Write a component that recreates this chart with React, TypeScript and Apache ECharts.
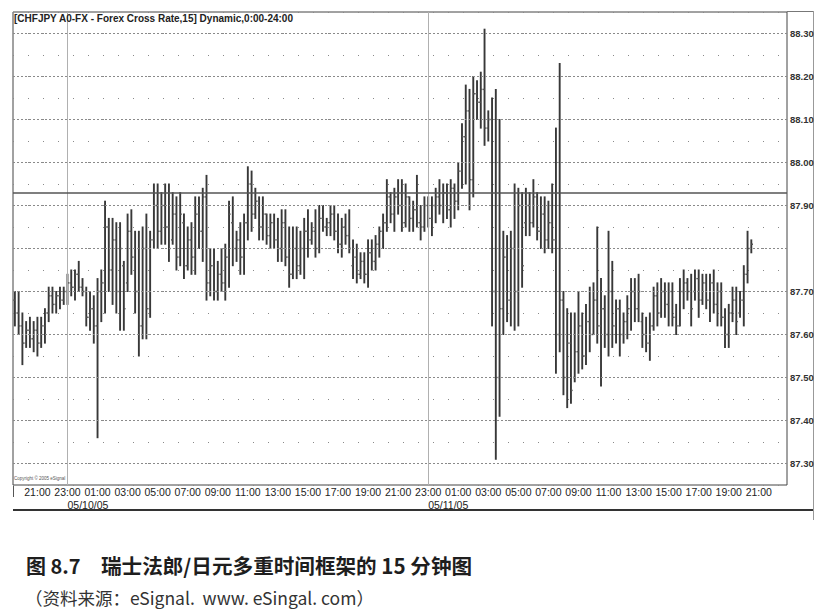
import React, { useEffect, useRef } from "react";
import * as echarts from "echarts";

// ---- data (15-minute OHLC bars, CHFJPY, 05/09/05 19:30 onward) ----
const opens = [
  87.68, 87.65, 87.62, 87.58, 87.61, 87.59, 87.61, 87.58, 87.62, 87.65,
  87.69, 87.67, 87.69, 87.68, 87.70, 87.72, 87.71, 87.74, 87.71, 87.70,
  87.64, 87.66, 87.62, 87.70, 87.72, 87.85, 87.75, 87.82, 87.70, 87.76,
  87.72, 87.84, 87.78, 87.70, 87.62, 87.80, 87.66, 87.82, 87.90, 87.84,
  87.90, 87.85, 87.82, 87.88, 87.78, 87.86, 87.76, 87.82, 87.78, 87.88,
  87.84, 87.92, 87.72, 87.76, 87.70, 87.74, 87.72, 87.78, 87.86, 87.80,
  87.82, 87.78, 87.86, 87.95, 87.88, 87.91, 87.85, 87.88, 87.83, 87.86,
  87.82, 87.80, 87.86, 87.78, 87.74, 87.80, 87.76, 87.80, 87.84, 87.82,
  87.84, 87.80, 87.87, 87.85, 87.86, 87.88, 87.84, 87.81, 87.85, 87.83,
  87.76, 87.78, 87.74, 87.77, 87.74, 87.79, 87.77, 87.81, 87.84, 87.86,
  87.92, 87.88, 87.92, 87.90, 87.86, 87.92, 87.87, 87.89, 87.86, 87.85,
  87.90, 87.87, 87.90, 87.92, 87.90, 87.93, 87.89, 87.94, 87.91, 87.98,
  88.06, 88.12, 87.96, 88.16, 88.14, 88.17, 88.08, 88.10, 87.70, 87.50,
  87.66, 87.78, 87.68, 87.80, 87.70, 87.90, 87.86, 87.90, 87.86, 87.92,
  87.84, 87.88, 87.82, 87.86, 87.82, 87.60, 87.68, 87.50, 87.58, 87.50,
  87.56, 87.62, 87.55, 87.63, 87.60, 87.68, 87.62, 87.66, 87.60, 87.70,
  87.62, 87.66, 87.60, 87.63, 87.66, 87.70, 87.66, 87.63, 87.60, 87.58,
  87.62, 87.69, 87.65, 87.70, 87.67, 87.70, 87.64, 87.62, 87.70, 87.72,
  87.70, 87.70, 87.73, 87.68, 87.72, 87.68, 87.72, 87.67, 87.70, 87.64,
  87.60, 87.65, 87.68, 87.65, 87.68, 87.74, 87.80,
];
const highs = [
  87.70, 87.70, 87.65, 87.63, 87.64, 87.63, 87.64, 87.64, 87.66, 87.71,
  87.71, 87.70, 87.71, 87.71, 87.74, 87.75, 87.75, 87.77, 87.73, 87.71,
  87.70, 87.69, 87.73, 87.75, 87.91, 87.87, 87.87, 87.86, 87.86, 87.77,
  87.88, 87.89, 87.84, 87.84, 87.85, 87.88, 87.84, 87.95, 87.95, 87.93,
  87.95, 87.95, 87.93, 87.92, 87.93, 87.88, 87.85, 87.86, 87.92, 87.92,
  87.94, 87.97, 87.80, 87.80, 87.77, 87.80, 87.81, 87.91, 87.92, 87.84,
  87.86, 87.88, 87.99, 87.98, 87.94, 87.92, 87.92, 87.88, 87.88, 87.88,
  87.87, 87.89, 87.89, 87.85, 87.85, 87.85, 87.84, 87.87, 87.89, 87.86,
  87.89, 87.90, 87.90, 87.87, 87.90, 87.90, 87.88, 87.87, 87.88, 87.89,
  87.82, 87.81, 87.79, 87.79, 87.82, 87.82, 87.83, 87.85, 87.88, 87.96,
  87.93, 87.94, 87.96, 87.96, 87.95, 87.92, 87.91, 87.97, 87.90, 87.92,
  87.92, 87.92, 87.94, 87.96, 87.95, 87.95, 87.96, 87.95, 88.00, 88.09,
  88.18, 88.17, 88.20, 88.19, 88.21, 88.31, 88.12, 88.15, 88.17, 88.10,
  87.84, 87.83, 87.84, 87.95, 87.94, 87.93, 87.94, 87.93, 87.96, 87.93,
  87.92, 87.92, 87.91, 87.95, 88.08, 88.23, 87.70, 87.66, 87.65, 87.65,
  87.70, 87.65, 87.67, 87.71, 87.72, 87.85, 87.73, 87.69, 87.84, 87.77,
  87.68, 87.68, 87.65, 87.69, 87.73, 87.73, 87.74, 87.65, 87.64, 87.65,
  87.71, 87.72, 87.73, 87.72, 87.72, 87.72, 87.67, 87.73, 87.75, 87.73,
  87.74, 87.75, 87.75, 87.74, 87.74, 87.74, 87.75, 87.72, 87.72, 87.66,
  87.67, 87.71, 87.71, 87.70, 87.76, 87.84, 87.82,
];
const lows = [
  87.62, 87.60, 87.53, 87.57, 87.57, 87.56, 87.55, 87.57, 87.58, 87.63,
  87.65, 87.65, 87.66, 87.67, 87.67, 87.69, 87.68, 87.70, 87.69, 87.62,
  87.61, 87.58, 87.36, 87.63, 87.65, 87.70, 87.67, 87.65, 87.61, 87.61,
  87.70, 87.74, 87.65, 87.55, 87.59, 87.59, 87.64, 87.80, 87.80, 87.81,
  87.81, 87.77, 87.81, 87.75, 87.76, 87.73, 87.75, 87.74, 87.74, 87.80,
  87.77, 87.68, 87.69, 87.68, 87.68, 87.70, 87.68, 87.71, 87.76, 87.77,
  87.74, 87.74, 87.82, 87.84, 87.87, 87.82, 87.82, 87.81, 87.80, 87.80,
  87.77, 87.77, 87.76, 87.71, 87.73, 87.73, 87.74, 87.73, 87.78, 87.81,
  87.78, 87.79, 87.84, 87.83, 87.83, 87.82, 87.79, 87.78, 87.81, 87.79,
  87.73, 87.72, 87.73, 87.72, 87.71, 87.75, 87.75, 87.78, 87.80, 87.84,
  87.86, 87.84, 87.88, 87.84, 87.85, 87.84, 87.84, 87.85, 87.82, 87.84,
  87.85, 87.83, 87.86, 87.88, 87.86, 87.87, 87.85, 87.87, 87.89, 87.94,
  87.95, 87.89, 87.92, 88.10, 88.08, 88.04, 88.05, 87.62, 87.31, 87.41,
  87.60, 87.63, 87.62, 87.61, 87.62, 87.71, 87.83, 87.83, 87.85, 87.82,
  87.80, 87.79, 87.80, 87.79, 87.51, 87.56, 87.46, 87.43, 87.44, 87.49,
  87.51, 87.52, 87.53, 87.56, 87.60, 87.58, 87.48, 87.57, 87.55, 87.57,
  87.58, 87.55, 87.58, 87.59, 87.61, 87.63, 87.63, 87.57, 87.56, 87.54,
  87.61, 87.62, 87.64, 87.64, 87.62, 87.62, 87.60, 87.62, 87.66, 87.68,
  87.62, 87.68, 87.64, 87.67, 87.66, 87.63, 87.65, 87.62, 87.62, 87.57,
  87.57, 87.63, 87.60, 87.64, 87.62, 87.72, 87.79,
];
const closes = [
  87.65, 87.62, 87.58, 87.61, 87.59, 87.61, 87.58, 87.62, 87.65, 87.69,
  87.67, 87.69, 87.68, 87.70, 87.72, 87.71, 87.74, 87.71, 87.70, 87.64,
  87.66, 87.62, 87.70, 87.72, 87.85, 87.75, 87.82, 87.70, 87.80, 87.66,
  87.84, 87.78, 87.70, 87.62, 87.80, 87.66, 87.82, 87.90, 87.84, 87.90,
  87.85, 87.80, 87.88, 87.78, 87.88, 87.76, 87.82, 87.78, 87.88, 87.84,
  87.92, 87.72, 87.76, 87.70, 87.74, 87.72, 87.78, 87.88, 87.80, 87.82,
  87.78, 87.86, 87.95, 87.88, 87.91, 87.85, 87.88, 87.83, 87.86, 87.82,
  87.80, 87.86, 87.78, 87.74, 87.80, 87.76, 87.80, 87.84, 87.82, 87.84,
  87.80, 87.87, 87.85, 87.86, 87.88, 87.84, 87.81, 87.85, 87.83, 87.80,
  87.78, 87.74, 87.77, 87.74, 87.79, 87.77, 87.81, 87.84, 87.86, 87.92,
  87.88, 87.92, 87.90, 87.86, 87.92, 87.87, 87.89, 87.86, 87.85, 87.90,
  87.87, 87.90, 87.92, 87.90, 87.93, 87.89, 87.94, 87.91, 87.98, 88.06,
  88.12, 87.96, 88.16, 88.14, 88.17, 88.08, 88.10, 87.70, 87.50, 87.66,
  87.78, 87.68, 87.80, 87.70, 87.90, 87.76, 87.90, 87.86, 87.92, 87.84,
  87.88, 87.82, 87.86, 87.82, 87.60, 87.68, 87.50, 87.58, 87.47, 87.56,
  87.62, 87.55, 87.63, 87.60, 87.68, 87.62, 87.66, 87.60, 87.70, 87.62,
  87.66, 87.60, 87.63, 87.66, 87.70, 87.66, 87.70, 87.60, 87.58, 87.62,
  87.69, 87.65, 87.70, 87.67, 87.70, 87.64, 87.62, 87.70, 87.72, 87.70,
  87.66, 87.73, 87.68, 87.72, 87.68, 87.72, 87.67, 87.70, 87.64, 87.60,
  87.65, 87.68, 87.63, 87.68, 87.74, 87.80, 87.81,
];

// price levels drawn as dotted grid lines and the tick labels on the right
const priceGridLevels = [87.3, 87.4, 87.5, 87.6, 87.7, 87.8, 87.9, 88.0, 88.1, 88.2, 88.3];
const referenceLevel = 87.93;
const lastPrice = 87.81;

// session breaks (vertical lines) and the date printed under each one
const sessionBreaks = ["05/09/05 23:00", "05/10/05 23:00"];
const sessionDates = ["05/10/05", "05/11/05"];

// time axis: 15-minute slots from 05/09/05 19:30 (slots after the last bar stay empty)
const SLOT_COUNT = 206;
const START_MINUTES = 19 * 60 + 30;
const pad = (n: number) => (n < 10 ? "0" + n : "" + n);
const categories: string[] = [];
for (let i = 0; i < SLOT_COUNT; i++) {
  const t = START_MINUTES + i * 15;
  const day = 9 + Math.floor(t / 1440);
  const m = t % 1440;
  categories.push(`05/${pad(day)}/05 ${pad(Math.floor(m / 60))}:${pad(m % 60)}`);
}
// time tick labels: every two hours on the odd hour
const timeTickLabels = ["21:00", "23:00", "01:00", "03:00", "05:00", "07:00", "09:00", "11:00", "13:00", "15:00", "17:00", "19:00"];

const TITLE = "[CHFJPY A0-FX - Forex Cross Rate,15] Dynamic,0:00-24:00";
const CAPTION_NO = "图 8.7";
const CAPTION = "瑞士法郎/日元多重时间框架的 15 分钟图";
const SOURCE = "（资料来源：eSignal.  www. eSingal. com）";

export default function App() {
  const ref = useRef<HTMLDivElement>(null);
  useEffect(() => {
    if (!ref.current) return;
    const chart = echarts.init(ref.current, undefined, { renderer: "svg" });
    const bars = opens.map((o, i) => [i, o, highs[i], lows[i], closes[i]]);
    const font = "Arial, 'Liberation Sans', sans-serif";
    const cjk = "'Noto Sans CJK SC', sans-serif";

    const renderItem = (params: any, api: any) => {
      const idx = api.value(0);
      const hi = api.coord([idx, api.value(2)]);
      const lo = api.coord([idx, api.value(3)]);
      const op = api.coord([idx, api.value(1)]);
      const cl = api.coord([idx, api.value(4)]);
      const w = api.size([1, 0])[0] * 0.45;
      const stroke = "#383838";
      return {
        type: "group",
        children: [
          { type: "line", shape: { x1: hi[0], y1: hi[1] - 0.5, x2: lo[0], y2: lo[1] + 0.5 }, style: { stroke, lineWidth: 1.9 } },
          { type: "line", shape: { x1: op[0] - w, y1: op[1], x2: op[0], y2: op[1] }, style: { stroke: "#555", lineWidth: 1.4 } },
          { type: "line", shape: { x1: cl[0], y1: cl[1], x2: cl[0] + w, y2: cl[1] }, style: { stroke: "#555", lineWidth: 1.4 } },
        ],
      };
    };

    const option: any = {
      animation: false,
      backgroundColor: "#ffffff",
      grid: { left: 13, right: 44, top: 12, bottom: 127, show: true, borderColor: "#444", borderWidth: 1 },
      xAxis: [
        {
          type: "category",
          data: categories,
          boundaryGap: true,
          axisLine: { show: false },
          axisTick: { show: false },
          splitLine: { show: false },
          axisLabel: {
            interval: (i: number, v: string) => timeTickLabels.indexOf(v.slice(9)) >= 0,
            formatter: (v: string) => v.slice(9),
            fontSize: 10.5,
            color: "#222",
            fontFamily: font,
            margin: 1,
          },
        },
        {
          type: "category",
          data: categories,
          position: "bottom",
          offset: 13,
          axisLine: { show: false },
          axisTick: { show: false },
          splitLine: { show: false },
          axisLabel: {
            interval: (i: number, v: string) => sessionBreaks.indexOf(v) >= 0,
            formatter: (v: string) => sessionDates[sessionBreaks.indexOf(v)] || "",
            align: "left",
            fontSize: 10.5,
            color: "#222",
            fontFamily: font,
            margin: 1,
          },
        },
      ],
      yAxis: {
        type: "value",
        position: "right",
        min: 87.25,
        max: 88.35,
        interval: 0.05,
        axisLine: { show: false },
        axisTick: { show: false },
        splitLine: { show: true, lineStyle: { color: "#8a8a8a", type: [1, 14], width: 1 } },
        axisLabel: {
          formatter: (v: number) => {
            const c = Math.round(v * 100);
            if (c % 10 !== 0) return "";
            if (Math.abs(v - lastPrice) < 0.02) return "";
            return (c / 100).toFixed(2);
          },
          fontSize: 9.5,
          fontWeight: "bold",
          color: "#333",
          fontFamily: font,
          margin: 3,
        },
      },
      series: [
        {
          type: "line",
          data: categories.map(() => null),
          showSymbol: false,
          silent: true,
          z: 1,
          markLine: {
            silent: true,
            symbol: ["none", "none"],
            label: { show: false },
            lineStyle: { color: "#8a8a8a", type: [2, 2], width: 1 },
            data: [
              ...priceGridLevels.map((v) => ({ yAxis: v, lineStyle: { color: "#8a8a8a", type: [2, 2], width: 1 } })),
              ...sessionBreaks.map((c) => ({ xAxis: c, lineStyle: { color: "#b0b0b0", type: "solid", width: 1 } })),
              { yAxis: referenceLevel, lineStyle: { color: "#555", type: "solid", width: 1.5 } },
              {
                yAxis: lastPrice,
                lineStyle: { opacity: 0 },
                label: {
                  show: true,
                  position: "end",
                  distance: 2,
                  formatter: lastPrice.toFixed(2),
                  backgroundColor: "#4a4a4a",
                  color: "#ffffff",
                  fontSize: 9.5,
                  fontWeight: "bold",
                  fontFamily: font,
                  padding: [1, 2, 1, 1],
                },
              },
            ],
          },
        },
        {
          type: "custom",
          name: "CHFJPY",
          data: bars,
          encode: { x: 0, y: [1, 2, 3, 4] },
          renderItem,
          clip: true,
          z: 3,
        },
      ],
      graphic: [
        { type: "text", left: 14, top: 13, style: { text: TITLE, fontSize: 10, fontWeight: "bold", fontFamily: font, fill: "#222" }, z: 10 },
        { type: "text", left: 14, top: 476, style: { text: "Copyright © 2005 eSignal", fontSize: 4.5, fontFamily: font, fill: "#555" }, z: 10 },
        { type: "line", shape: { x1: 787, y1: 11.5, x2: 813, y2: 11.5 }, style: { stroke: "#777", lineWidth: 1 } },
        { type: "line", shape: { x1: 813.5, y1: 11, x2: 813.5, y2: 520 }, style: { stroke: "#999", lineWidth: 1 } },
        { type: "line", shape: { x1: 13, y1: 510, x2: 813, y2: 510 }, style: { stroke: "#333", lineWidth: 2 } },
        { type: "line", shape: { x1: 13.5, y1: 485, x2: 13.5, y2: 497 }, style: { stroke: "#555", lineWidth: 1 } },
        { type: "text", left: 26, top: 555, style: { text: CAPTION_NO, fontSize: 20, fontWeight: "bold", fontFamily: cjk, fill: "#1e1e1e" } },
        { type: "text", left: 101, top: 555, style: { text: CAPTION, fontSize: 20.6, fontWeight: "bold", fontFamily: cjk, fill: "#1e1e1e" } },
        { type: "text", left: 25, top: 589, style: { text: SOURCE, fontSize: 17.5, fontFamily: cjk, fill: "#333" } },
      ],
    };
    chart.setOption(option);
    return () => chart.dispose();
  }, []);
  return <div ref={ref} style={{ position: "fixed", left: 0, top: 0, width: 831, height: 612, background: "#fff" }} />;
}
